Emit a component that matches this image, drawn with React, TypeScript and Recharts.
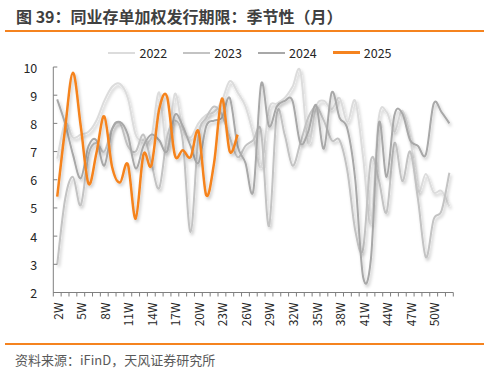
import React from 'react';
import { LineChart, Line, XAxis, YAxis, Legend } from 'recharts';

const weeks = [
  '2W', '3W', '4W', '5W', '6W', '7W', '8W', '9W', '10W', '11W',
  '12W', '13W', '14W', '15W', '16W', '17W', '18W', '19W', '20W', '21W',
  '22W', '23W', '24W', '25W', '26W', '27W', '28W', '29W', '30W', '31W',
  '32W', '33W', '34W', '35W', '36W', '37W', '38W', '39W', '40W', '41W',
  '42W', '43W', '44W', '45W', '46W', '47W', '48W', '49W', '50W', '51W',
  '52W',
];

const s2022 = [
  6.75, 8.0, 7.5, 7.6, 7.7, 8.1, 8.8, 9.3, 9.4, 8.9,
  7.6, 7.4, 7.5, 9.1, 7.1, 9.05, 7.8, 7.5, 8.0, 8.3,
  8.4, 8.8, 9.5, 9.1, 8.6, 7.6, 6.45, 8.5, 8.7, 8.9,
  9.3, 9.85, 7.3, 8.6, 8.8, 8.5, 8.9, 8.05, 8.8, 6.8,
  4.45, 8.2, 8.4, 7.7, 8.45, 7.5, 5.6, 6.2, 5.55, 5.6,
  5.05,
];

const s2023 = [
  3.0, 5.3, 6.1, 5.1, 6.9, 7.3, 7.0, 7.8, 8.0, 7.2,
  7.0, 7.6, 6.6, 5.7, 7.5, 8.1, 7.4, 4.15, 7.5, 8.2,
  8.6, 8.3, 7.5, 6.8, 7.2, 7.4, 7.7, 4.35, 8.35, 7.6,
  6.5, 7.3, 8.2, 8.6, 8.1, 7.4, 7.4, 6.3, 4.2, 3.55,
  6.7, 6.0, 4.85, 7.3, 5.95, 7.0, 5.3, 3.25, 4.6, 4.9,
  6.25,
];

const s2024 = [
  8.85, 8.0, 6.9, 6.05, 7.2, 7.4, 6.5, 7.8, 8.05, 7.6,
  6.4, 7.2, 7.6, 7.4, 7.0, 8.3, 7.9, 7.2, 6.6, 7.9,
  8.1, 8.2, 8.9, 7.2, 6.6, 5.6, 9.4, 7.9, 8.6, 8.8,
  8.8, 7.3, 7.7, 8.65, 7.1, 9.1, 8.2, 7.8, 6.0, 2.55,
  3.2, 8.0, 6.1, 8.3, 8.35, 7.4, 7.2, 6.9, 8.7, 8.4,
  8.0,
];

const s2025 = [
  5.4, 7.8, 9.8, 7.9, 5.85, 6.95, 8.25, 6.45, 5.9, 6.55,
  4.62, 6.9, 6.5, 8.5, 8.95, 6.87, 7.05, 6.8, 7.72, 5.45,
  6.6, 8.88, 7.0, 7.6,
];

const yTicks = [2, 3, 4, 5, 6, 7, 8, 9, 10];

const series = [
  { key: 'y2022', name: '2022', color: '#dcdcdc', width: 2 },
  { key: 'y2023', name: '2023', color: '#c3c3c3', width: 2 },
  { key: 'y2024', name: '2024', color: '#a8a8a8', width: 2 },
  { key: 'y2025', name: '2025', color: '#f5831f', width: 2.5 },
];

const data = weeks.map((week, i) => ({
  week,
  y2022: s2022[i],
  y2023: s2023[i],
  y2024: s2024[i],
  y2025: i < s2025.length ? s2025[i] : null,
}));

const FONT = '"Noto Sans CJK SC", "Noto Sans", sans-serif';
const PLOT_W = 400;
const BAND = PLOT_W / weeks.length;

// excel style smoothed line (catmull-rom through the points)
const smoothCurve = (context: any) => {
  let pts: number[][] = [];
  return {
    areaStart() {},
    areaEnd() {},
    lineStart() {
      pts = [];
    },
    point(x: number, y: number) {
      pts.push([+x, +y]);
    },
    lineEnd() {
      if (!pts.length) return;
      context.moveTo(pts[0][0], pts[0][1]);
      for (let i = 0; i < pts.length - 1; i++) {
        const p0 = pts[i - 1] || pts[i];
        const p1 = pts[i];
        const p2 = pts[i + 1];
        const p3 = pts[i + 2] || p2;
        const t = 1 / 6;
        context.bezierCurveTo(
          p1[0] + (p2[0] - p0[0]) * t,
          p1[1] + (p2[1] - p0[1]) * t,
          p2[0] - (p3[0] - p1[0]) * t,
          p2[1] - (p3[1] - p1[1]) * t,
          p2[0],
          p2[1]
        );
      }
    },
  };
};

const XTick = (props: any) => {
  const { x, y, payload } = props;
  const index = props.index ?? payload.index;
  const half = BAND / 2;
  const ty = y + 10;
  return (
    <g>
      <line x1={x - half} x2={x - half} y1={y} y2={y + 4} stroke="#7f7f7f" />
      {index === weeks.length - 1 && (
        <line x1={x + half} x2={x + half} y1={y} y2={y + 4} stroke="#7f7f7f" />
      )}
      {index % 3 === 0 && (
        <text
          x={x}
          y={ty}
          transform={`rotate(-90 ${x} ${ty})`}
          textAnchor="end"
          dominantBaseline="central"
          fontSize={12}
          fontFamily={FONT}
          fill="#262626"
        >
          {payload.value}
        </text>
      )}
    </g>
  );
};

const YTick = (props: any) => {
  const { x, y, payload } = props;
  return (
    <g>
      <line x1={x} x2={x + 4} y1={y} y2={y} stroke="#7f7f7f" />
      <text
        x={x - 16}
        y={y}
        textAnchor="end"
        dominantBaseline="central"
        fontSize={12.5}
        fontFamily={FONT}
        fill="#262626"
      >
        {payload.value}
      </text>
    </g>
  );
};

const renderLegend = () => (
  <div
    style={{
      display: 'flex',
      justifyContent: 'center',
      paddingLeft: 10,
      fontFamily: FONT,
      fontSize: 12.5,
      color: '#262626',
    }}
  >
    {series.map((s) => (
      <div key={s.key} style={{ display: 'flex', alignItems: 'center', margin: '0 8px' }}>
        <span style={{ width: 27, height: s.width, background: s.color, marginRight: 4 }} />
        <span>{s.name}</span>
      </div>
    ))}
  </div>
);

const App: React.FC = () => {
  return (
    <div
      style={{
        position: 'absolute',
        top: 0,
        left: 0,
        width: 490,
        height: 373,
        background: '#fff',
        fontFamily: FONT,
      }}
    >
      <div
        style={{
          position: 'absolute',
          left: 16,
          top: 4,
          fontSize: 16,
          fontWeight: 'bold',
          color: '#404040',
          whiteSpace: 'nowrap',
        }}
      >
        图 39：同业存单加权发行期限：季节性（月）
      </div>
      <div style={{ position: 'absolute', left: 5, top: 30, width: 479, height: 1.5, background: '#f5831f' }} />

      <div style={{ position: 'absolute', left: 0, top: 0 }}>
        <LineChart width={490} height={373} data={data} margin={{ top: 67, right: 36.7, left: 13.3, bottom: 50.5 }}>
          <defs>
            <filter id="lineShadow" x="-10%" y="-10%" width="120%" height="130%">
              <feDropShadow dx="1.5" dy="2.5" stdDeviation="1.5" floodColor="#000" floodOpacity="0.22" />
            </filter>
          </defs>
          <XAxis
            dataKey="week"
            interval={0}
            height={30}
            padding={{ left: BAND / 2, right: BAND / 2 }}
            stroke="#7f7f7f"
            tickLine={false}
            tickSize={0}
            tickMargin={0}
            tick={<XTick />}
          />
          <YAxis
            domain={[2, 10]}
            ticks={yTicks}
            width={40}
            stroke="#7f7f7f"
            tickLine={false}
            tickSize={0}
            tickMargin={0}
            tick={<YTick />}
          />
          <Legend
            verticalAlign="middle"
            align="center"
            content={renderLegend}
            wrapperStyle={{ top: 43, left: 0, width: 490, height: 18 }}
          />
          {series.map((s) => (
            <Line
              key={s.key}
              type={smoothCurve as any}
              dataKey={s.key}
              name={s.name}
              stroke={s.color}
              strokeWidth={s.width}
              dot={false}
              activeDot={false}
              filter="url(#lineShadow)"
              isAnimationActive={false}
            />
          ))}
        </LineChart>
      </div>

      <div style={{ position: 'absolute', left: 5, top: 343, width: 479, height: 1.5, background: '#f5831f' }} />
      <div
        style={{
          position: 'absolute',
          left: 15,
          top: 350,
          fontSize: 13,
          color: '#595959',
          whiteSpace: 'nowrap',
        }}
      >
        资料来源：iFinD，天风证券研究所
      </div>
    </div>
  );
};

export default App;
